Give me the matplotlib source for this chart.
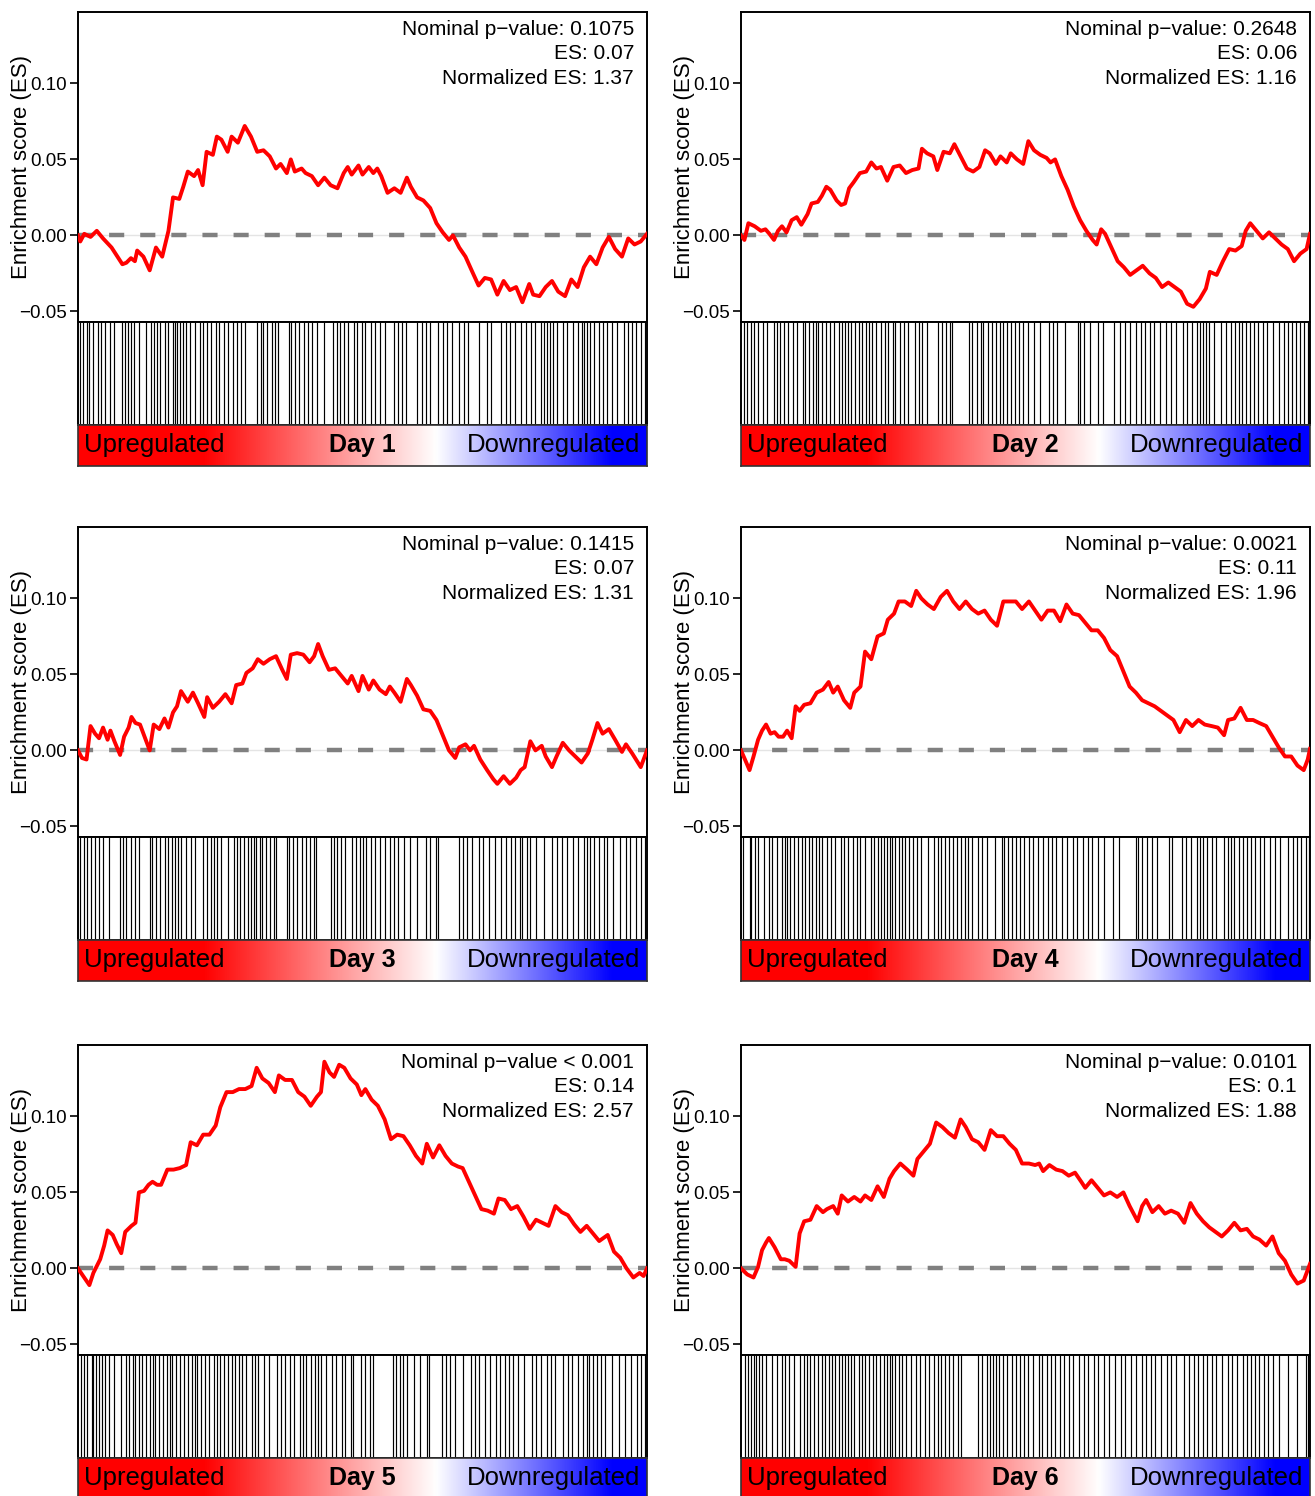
import numpy as np
import matplotlib.pyplot as plt
from matplotlib.colors import LinearSegmentedColormap
from matplotlib.ticker import FuncFormatter

plt.rcParams['font.family'] = ['Liberation Sans', 'DejaVu Sans']

# ----------------------
# Running enrichment score (x = position in ranked list, %)
# ----------------------
day1_rank = [0, 0.4, 1.1, 2.2, 3.3, 4.4, 5.9, 7.8, 8.5, 9.3,
             10.0, 10.4, 11.5, 12.6, 13.7, 14.8, 15.9, 16.7, 17.8, 18.5,
             19.3, 20.4, 21.1, 21.9, 22.6, 23.7, 24.4, 25.2, 26.3, 27.0,
             28.1, 29.3, 30.4, 31.5, 32.6, 33.7, 34.8, 35.6, 36.7, 37.4,
             38.1, 39.3, 40.0, 41.1, 42.2, 43.3, 44.4, 45.6, 46.7, 47.4,
             48.1, 49.3, 50.0, 51.1, 51.9, 52.6, 53.3, 54.4, 55.6, 56.7,
             57.8, 58.5, 59.6, 60.7, 61.9, 63.0, 64.1, 65.2, 65.9, 67.0,
             68.1, 69.3, 70.4, 71.5, 72.6, 73.7, 74.8, 75.9, 77.0, 78.1,
             79.3, 80.0, 81.1, 82.2, 83.3, 84.4, 85.6, 86.7, 87.8, 88.9,
             90.0, 91.1, 92.2, 93.3, 94.4, 95.6, 96.7, 97.8, 98.9, 100]
day1_es = [0.000, -0.004, 0.001, -0.001, 0.003, -0.002, -0.008, -0.019, -0.018, -0.015,
           -0.017, -0.010, -0.014, -0.023, -0.008, -0.014, 0.003, 0.025, 0.024, 0.032,
           0.042, 0.039, 0.043, 0.033, 0.055, 0.053, 0.065, 0.063, 0.055, 0.065,
           0.061, 0.072, 0.065, 0.055, 0.056, 0.052, 0.044, 0.047, 0.041, 0.050,
           0.042, 0.044, 0.041, 0.039, 0.033, 0.038, 0.033, 0.031, 0.041, 0.045,
           0.040, 0.046, 0.040, 0.045, 0.041, 0.044, 0.039, 0.028, 0.031, 0.028,
           0.038, 0.032, 0.025, 0.023, 0.018, 0.008, 0.002, -0.003, 0.000, -0.008,
           -0.014, -0.024, -0.033, -0.028, -0.029, -0.039, -0.030, -0.036, -0.034, -0.044,
           -0.032, -0.039, -0.040, -0.034, -0.030, -0.037, -0.040, -0.029, -0.034, -0.021,
           -0.014, -0.019, -0.008, -0.001, -0.009, -0.014, -0.002, -0.006, -0.004, 0.001]

day2_rank = [0, 0.6, 1.3, 2.4, 3.5, 4.3, 5.0, 5.8, 6.5, 7.2,
             8.0, 8.9, 9.8, 10.6, 11.7, 12.4, 13.5, 14.2, 15.0, 15.7,
             16.8, 17.6, 18.3, 19.0, 19.8, 20.9, 22.0, 22.9, 23.8, 24.6,
             25.7, 26.8, 27.9, 29.0, 30.1, 31.2, 31.8, 32.7, 33.8, 34.5,
             35.6, 36.7, 37.5, 38.6, 39.7, 40.8, 41.9, 42.9, 43.7, 44.8,
             45.6, 46.7, 47.4, 48.5, 49.6, 50.5, 51.5, 52.6, 53.7, 54.4,
             55.2, 56.3, 57.4, 58.5, 59.6, 60.7, 61.8, 62.5, 63.3, 64.0,
             65.1, 66.2, 67.3, 68.4, 69.5, 70.6, 71.8, 72.9, 74.0, 75.1,
             76.2, 77.3, 78.4, 79.5, 80.6, 81.7, 82.4, 83.6, 84.7, 85.8,
             86.9, 88.0, 88.7, 89.5, 90.6, 91.7, 92.8, 93.9, 95.0, 96.1,
             97.2, 98.3, 99.4, 100]
day2_es = [0.000, -0.003, 0.008, 0.006, 0.003, 0.004, 0.001, -0.003, 0.003, 0.006,
           0.002, 0.010, 0.012, 0.007, 0.014, 0.021, 0.022, 0.026, 0.032, 0.030,
           0.023, 0.020, 0.021, 0.031, 0.035, 0.041, 0.042, 0.048, 0.044, 0.045,
           0.036, 0.045, 0.046, 0.041, 0.043, 0.044, 0.057, 0.054, 0.052, 0.043,
           0.055, 0.054, 0.060, 0.052, 0.044, 0.042, 0.045, 0.056, 0.054, 0.047,
           0.052, 0.048, 0.054, 0.050, 0.047, 0.062, 0.056, 0.053, 0.051, 0.048,
           0.050, 0.039, 0.030, 0.019, 0.010, 0.003, -0.003, -0.006, 0.004, 0.001,
           -0.008, -0.017, -0.021, -0.026, -0.023, -0.020, -0.025, -0.028, -0.034, -0.031,
           -0.034, -0.037, -0.045, -0.047, -0.042, -0.035, -0.024, -0.026, -0.017, -0.009,
           -0.010, -0.007, 0.003, 0.008, 0.003, -0.002, 0.002, -0.002, -0.006, -0.009,
           -0.017, -0.012, -0.009, 0.001]

day3_rank = [0, 0.7, 1.5, 2.2, 3.0, 3.7, 4.4, 5.2, 5.7, 6.4,
             7.4, 8.1, 8.9, 9.4, 10.1, 10.9, 11.9, 12.6, 13.3, 14.3,
             15.2, 15.9, 16.7, 17.4, 18.1, 19.3, 20.2, 21.1, 22.2, 22.7,
             23.7, 24.8, 25.9, 27.0, 27.8, 28.9, 29.6, 30.7, 31.6, 32.6,
             33.7, 34.8, 35.9, 36.7, 37.4, 38.5, 39.6, 40.7, 41.5, 42.2,
             43.0, 44.1, 45.2, 46.3, 47.4, 48.1, 49.3, 50.0, 51.1, 51.9,
             53.0, 54.1, 54.8, 55.6, 56.7, 57.8, 58.5, 59.6, 60.7, 61.9,
             63.0, 64.1, 65.2, 66.3, 67.0, 68.1, 68.9, 69.6, 70.7, 71.9,
             73.0, 73.7, 74.8, 75.9, 77.0, 77.8, 78.5, 79.5, 80.4, 81.5,
             82.2, 83.3, 84.1, 85.2, 86.3, 87.4, 88.5, 89.6, 90.4, 91.3,
             92.2, 93.3, 94.4, 95.6, 96.3, 97.4, 98.9, 100]
day3_es = [0.000, -0.005, -0.006, 0.016, 0.011, 0.008, 0.015, 0.007, 0.013, 0.006,
           -0.003, 0.009, 0.015, 0.022, 0.018, 0.017, 0.007, 0.000, 0.017, 0.014,
           0.021, 0.015, 0.025, 0.029, 0.039, 0.032, 0.038, 0.031, 0.022, 0.035,
           0.028, 0.032, 0.037, 0.031, 0.043, 0.044, 0.051, 0.054, 0.060, 0.057,
           0.060, 0.062, 0.053, 0.047, 0.063, 0.064, 0.063, 0.058, 0.062, 0.070,
           0.062, 0.053, 0.054, 0.049, 0.044, 0.049, 0.039, 0.049, 0.040, 0.046,
           0.040, 0.037, 0.042, 0.038, 0.032, 0.047, 0.043, 0.036, 0.027, 0.026,
           0.020, 0.010, 0.000, -0.005, 0.002, 0.004, 0.000, 0.003, -0.006, -0.013,
           -0.019, -0.022, -0.017, -0.022, -0.018, -0.013, -0.011, 0.006, 0.000, 0.003,
           -0.004, -0.011, -0.004, 0.005, 0.000, -0.004, -0.008, -0.002, 0.007, 0.018,
           0.011, 0.014, 0.007, -0.001, 0.004, -0.002, -0.011, 0.000]

day4_rank = [0, 0.7, 1.5, 2.2, 3.0, 3.7, 4.4, 5.2, 5.9, 6.6,
             7.4, 8.1, 8.9, 9.6, 10.3, 11.1, 12.2, 13.3, 14.4, 15.4,
             16.2, 17.0, 18.1, 19.2, 19.9, 21.0, 21.8, 22.9, 24.0, 25.1,
             25.8, 26.9, 27.7, 28.8, 29.9, 30.8, 31.7, 32.8, 33.9, 35.1,
             36.2, 37.3, 38.4, 39.5, 40.6, 41.7, 42.8, 43.9, 45.0, 46.1,
             47.2, 48.3, 49.4, 50.6, 51.7, 52.8, 53.9, 55.0, 56.1, 57.2,
             58.3, 59.4, 60.5, 61.6, 62.7, 63.8, 64.9, 66.1, 67.2, 68.3,
             69.4, 70.5, 71.6, 72.7, 73.8, 74.9, 76.0, 77.1, 78.2, 79.3,
             80.4, 81.5, 82.7, 83.8, 84.9, 85.6, 86.7, 87.8, 88.9, 90.0,
             91.1, 92.3, 93.4, 94.5, 95.6, 96.7, 97.8, 98.9, 99.6, 100]
day4_es = [0.000, -0.006, -0.013, -0.004, 0.007, 0.013, 0.017, 0.011, 0.012, 0.009,
           0.009, 0.013, 0.008, 0.029, 0.026, 0.030, 0.031, 0.038, 0.040, 0.045,
           0.038, 0.042, 0.033, 0.028, 0.038, 0.042, 0.065, 0.060, 0.075, 0.077,
           0.086, 0.090, 0.098, 0.098, 0.095, 0.105, 0.100, 0.096, 0.093, 0.101,
           0.105, 0.098, 0.093, 0.098, 0.093, 0.090, 0.092, 0.086, 0.082, 0.098,
           0.098, 0.098, 0.093, 0.098, 0.092, 0.086, 0.092, 0.092, 0.085, 0.096,
           0.090, 0.089, 0.084, 0.079, 0.079, 0.074, 0.066, 0.062, 0.052, 0.042,
           0.038, 0.033, 0.031, 0.029, 0.026, 0.023, 0.020, 0.012, 0.020, 0.016,
           0.020, 0.017, 0.016, 0.015, 0.010, 0.020, 0.021, 0.028, 0.020, 0.020,
           0.018, 0.016, 0.009, 0.002, -0.004, -0.004, -0.010, -0.013, -0.006, 0.001]

day5_rank = [0, 0.9, 2.0, 2.7, 3.9, 4.6, 5.2, 6.1, 6.8, 7.6,
             8.3, 9.4, 10.1, 10.7, 11.6, 12.4, 13.1, 13.9, 14.6, 15.7,
             16.8, 17.9, 19.0, 19.8, 20.9, 22.0, 23.1, 24.2, 25.0, 26.1,
             27.2, 28.3, 29.4, 30.5, 31.4, 32.4, 33.5, 34.6, 35.3, 36.4,
             37.6, 38.7, 39.8, 40.9, 42.0, 42.7, 43.3, 44.2, 45.0, 45.9,
             46.8, 47.9, 49.0, 49.8, 50.5, 51.6, 52.7, 53.9, 55.0, 56.1,
             57.2, 58.3, 59.4, 60.5, 61.3, 62.4, 63.5, 64.6, 65.7, 66.8,
             67.6, 68.7, 69.8, 70.9, 72.0, 73.1, 73.9, 75.0, 76.1, 77.2,
             78.3, 79.4, 80.5, 81.6, 82.7, 83.9, 85.0, 86.1, 87.2, 88.3,
             89.4, 90.5, 91.6, 93.1, 94.2, 95.3, 96.4, 97.6, 98.7, 99.4,
             100]
day5_es = [0.000, -0.005, -0.011, -0.003, 0.006, 0.015, 0.025, 0.022, 0.016, 0.010,
           0.024, 0.028, 0.030, 0.050, 0.051, 0.055, 0.057, 0.055, 0.055, 0.065,
           0.065, 0.066, 0.068, 0.083, 0.081, 0.088, 0.088, 0.094, 0.106, 0.116,
           0.116, 0.118, 0.118, 0.120, 0.132, 0.125, 0.122, 0.116, 0.127, 0.124,
           0.124, 0.116, 0.113, 0.107, 0.113, 0.116, 0.136, 0.129, 0.126, 0.134,
           0.132, 0.125, 0.121, 0.114, 0.118, 0.111, 0.107, 0.098, 0.085, 0.088,
           0.087, 0.081, 0.074, 0.069, 0.082, 0.073, 0.081, 0.074, 0.069, 0.067,
           0.066, 0.057, 0.048, 0.039, 0.038, 0.036, 0.046, 0.045, 0.039, 0.041,
           0.034, 0.026, 0.032, 0.030, 0.028, 0.041, 0.037, 0.035, 0.029, 0.024,
           0.028, 0.023, 0.018, 0.022, 0.011, 0.007, 0.000, -0.006, -0.003, -0.005,
           0.000]

day6_rank = [0, 1.1, 2.2, 3.0, 3.7, 4.4, 4.9, 5.9, 7.0, 7.7,
             8.5, 9.6, 10.3, 11.1, 12.2, 13.3, 14.4, 15.1, 16.2, 17.0,
             17.7, 18.8, 19.9, 21.0, 21.8, 22.9, 24.0, 25.1, 26.1, 26.9,
             28.0, 29.2, 30.3, 31.0, 32.1, 33.2, 34.3, 35.4, 36.5, 37.6,
             38.6, 39.5, 40.6, 41.7, 42.8, 43.9, 45.0, 46.1, 47.2, 48.3,
             49.4, 50.6, 51.7, 52.4, 53.1, 54.2, 55.4, 56.5, 57.6, 58.7,
             59.8, 60.5, 61.6, 62.7, 63.8, 64.9, 66.1, 67.2, 68.3, 69.7,
             70.5, 71.2, 72.3, 73.4, 74.5, 75.6, 76.8, 77.9, 79.0, 80.1,
             81.2, 82.3, 83.4, 84.5, 85.6, 86.7, 87.8, 88.9, 90.0, 91.1,
             92.3, 93.4, 94.5, 95.6, 96.7, 97.8, 98.9, 100]
day6_es = [0.000, -0.004, -0.006, 0.001, 0.012, 0.017, 0.020, 0.014, 0.006, 0.006,
           0.005, 0.001, 0.023, 0.031, 0.032, 0.041, 0.037, 0.039, 0.041, 0.036,
           0.048, 0.044, 0.047, 0.044, 0.048, 0.045, 0.054, 0.047, 0.059, 0.064,
           0.069, 0.065, 0.061, 0.072, 0.077, 0.082, 0.096, 0.093, 0.089, 0.086,
           0.098, 0.093, 0.085, 0.083, 0.078, 0.091, 0.087, 0.087, 0.082, 0.078,
           0.069, 0.069, 0.068, 0.069, 0.064, 0.068, 0.065, 0.064, 0.061, 0.063,
           0.057, 0.053, 0.058, 0.053, 0.048, 0.050, 0.047, 0.050, 0.041, 0.031,
           0.041, 0.045, 0.037, 0.041, 0.036, 0.038, 0.036, 0.030, 0.043, 0.036,
           0.031, 0.027, 0.024, 0.021, 0.025, 0.030, 0.025, 0.026, 0.021, 0.019,
           0.015, 0.021, 0.010, 0.005, -0.004, -0.010, -0.008, 0.003]

# ----------------------
# Gene set hits along the ranked list (%)
# ----------------------
day1_hits = [0.4, 0.9, 1.5, 2.0, 2.7, 3.5, 4.1, 4.8, 5.7, 6.3, 7.8, 8.2, 8.7, 9.3, 9.9,
             10.7, 11.9, 12.8, 13.3, 13.9, 14.4, 15.3, 15.9, 16.7, 17.0, 17.4, 18.0,
             18.5, 18.9, 19.6, 20.5, 21.5, 22.0, 22.6, 23.3, 24.2, 24.8, 25.6, 26.3,
             27.2, 27.9, 28.7, 29.3, 31.5, 32.1, 32.6, 33.3, 34.1, 34.6, 35.2, 37.0,
             37.4, 38.1, 38.9, 39.8, 40.4, 41.1, 42.0, 43.3, 44.8, 45.6, 46.1, 46.7,
             47.4, 48.5, 49.1, 49.9, 50.4, 51.5, 52.2, 53.0, 53.9, 55.6, 56.3, 57.0,
             57.6, 59.6, 60.4, 61.1, 61.9, 63.3, 64.1, 64.8, 65.7, 67.0, 67.8, 68.5,
             70.4, 71.9, 72.6, 74.4, 75.2, 75.9, 76.8, 77.8, 78.7, 79.6, 80.4, 81.3,
             81.9, 82.4, 83.0, 83.5, 84.1, 85.2, 85.9, 87.0, 87.9, 88.5, 88.9, 89.4,
             90.0, 90.7, 91.6, 92.2, 93.0, 93.9, 94.8, 95.9, 96.7, 97.4, 98.1, 98.9, 99.6]
day2_hits = [0.6, 1.1, 1.7, 2.3, 3.0, 3.8, 4.6, 5.8, 6.3, 6.9, 7.6, 8.3, 9.2, 9.8, 10.9,
             11.3, 12.0, 12.6, 13.1, 13.6, 14.2, 15.0, 15.7, 16.4, 17.2, 17.8, 18.3,
             18.8, 19.4, 20.1, 20.7, 21.2, 22.0, 22.5, 23.1, 23.8, 24.6, 25.3, 25.9,
             26.8, 27.1, 27.9, 28.6, 29.4, 30.5, 31.2, 31.8, 32.7, 34.7, 35.3, 36.0,
             36.7, 37.1, 40.0, 40.6, 41.4, 42.1, 42.6, 43.4, 44.1, 44.8, 45.6, 46.1,
             46.7, 47.4, 48.2, 48.9, 49.6, 50.4, 51.5, 52.6, 54.1, 54.9, 55.5, 57.0,
             59.2, 59.6, 60.3, 61.4, 62.8, 63.6, 65.5, 66.6, 67.5, 68.4, 69.5, 70.3,
             71.0, 71.8, 72.5, 73.6, 74.7, 75.6, 76.5, 77.7, 78.4, 79.3, 80.2, 80.6,
             81.2, 81.7, 82.2, 83.2, 84.3, 85.2, 86.1, 86.9, 87.6, 88.1, 88.7, 89.5,
             90.2, 90.9, 91.7, 92.4, 93.5, 94.6, 95.4, 96.1, 96.8, 97.6, 98.3, 99.0, 99.6]
day3_hits = [0.4, 1.0, 1.5, 2.2, 3.0, 3.7, 4.4, 5.4, 7.4, 7.9, 8.5, 9.3, 10.1, 10.7,
             12.6, 13.0, 13.7, 14.4, 15.3, 15.9, 16.5, 17.0, 17.6, 18.1, 18.9, 19.8,
             20.5, 21.9, 22.6, 23.3, 23.9, 24.4, 25.2, 26.3, 27.4, 27.9, 28.5, 29.1,
             29.9, 30.4, 30.9, 31.3, 31.9, 32.4, 33.0, 33.7, 34.4, 34.8, 36.8, 37.1,
             37.8, 38.5, 39.3, 40.0, 40.7, 41.5, 41.9, 44.4, 45.0, 45.6, 46.3, 47.0,
             48.1, 48.9, 49.6, 50.1, 50.7, 51.5, 52.2, 53.0, 53.9, 54.8, 55.6, 56.3,
             57.3, 58.3, 59.6, 61.1, 61.9, 63.0, 63.3, 67.0, 67.6, 68.4, 69.3, 70.4,
             71.1, 72.2, 73.3, 74.4, 75.2, 76.1, 76.8, 77.6, 78.1, 78.9, 79.5, 80.5,
             81.9, 83.3, 84.1, 85.0, 85.9, 87.0, 87.9, 88.9, 89.4, 89.9, 90.7, 91.6,
             92.4, 93.0, 94.1, 95.2, 96.3, 97.0, 98.1, 99.0, 99.6]
day4_hits = [0.4, 1.5, 1.8, 2.4, 3.0, 4.1, 4.9, 5.5, 6.3, 7.2, 7.7, 8.1, 8.6, 9.4, 10.0,
             10.7, 11.3, 12.0, 12.5, 13.1, 13.7, 14.2, 15.1, 15.9, 16.6, 17.5, 18.1,
             18.8, 19.6, 20.3, 20.9, 21.8, 22.9, 23.4, 24.0, 24.6, 25.1, 25.6, 26.1,
             26.6, 27.1, 27.7, 28.3, 28.8, 29.5, 30.3, 31.0, 31.7, 32.8, 33.9, 34.7,
             35.2, 35.8, 36.5, 37.3, 38.0, 38.6, 39.3, 39.9, 40.6, 41.7, 42.4, 43.2,
             44.6, 45.8, 46.3, 46.9, 47.6, 48.3, 49.1, 49.8, 50.6, 51.3, 52.2, 53.1,
             53.9, 54.6, 55.4, 56.5, 57.3, 58.3, 59.0, 60.1, 61.0, 61.6, 62.7, 63.8,
             65.3, 66.4, 69.4, 69.7, 70.5, 71.4, 72.3, 73.1, 75.3, 75.8, 77.5, 78.2,
             79.0, 80.1, 80.7, 81.2, 81.9, 82.7, 83.4, 84.9, 85.6, 86.1, 86.7, 87.5,
             88.2, 88.9, 89.7, 90.4, 91.3, 91.9, 93.0, 93.9, 94.7, 96.2, 97.0, 97.8,
             98.5, 99.3, 99.9]
day5_hits = [0.5, 1.0, 1.6, 2.4, 2.7, 3.1, 3.7, 4.2, 4.7, 5.5, 6.4, 7.6, 8.4, 9.0, 9.6,
             10.1, 10.7, 11.3, 12.0, 12.6, 13.1, 13.6, 14.2, 15.0, 15.6, 16.1, 16.6,
             17.2, 17.9, 18.7, 19.3, 20.0, 20.5, 21.0, 21.6, 22.4, 23.1, 23.9, 24.4,
             25.0, 25.7, 26.4, 27.0, 27.6, 28.3, 28.9, 29.6, 30.5, 31.1, 31.6, 32.7,
             33.6, 35.0, 35.7, 36.4, 37.2, 37.9, 39.0, 39.6, 40.1, 40.9, 41.6, 42.2,
             42.7, 43.5, 44.6, 45.3, 46.4, 47.0, 47.9, 48.3, 49.8, 50.4, 51.3, 51.9,
             55.3, 55.9, 56.6, 57.2, 57.9, 59.0, 60.1, 61.3, 61.6, 63.9, 64.6, 65.3,
             66.2, 67.6, 69.0, 69.8, 70.5, 71.6, 72.4, 73.5, 74.2, 75.0, 75.7, 76.4,
             77.3, 78.3, 79.8, 80.5, 81.3, 82.4, 83.1, 83.9, 85.3, 86.1, 86.8, 87.9,
             88.7, 89.4, 89.8, 90.5, 91.3, 92.0, 92.7, 93.9, 95.0, 96.1, 97.2, 98.3,
             99.0, 99.6]
day6_hits = [0.7, 1.3, 1.8, 2.2, 2.6, 3.2, 3.7, 4.4, 5.4, 6.3, 7.2, 7.7, 8.5, 9.4, 10.3,
             11.1, 11.6, 12.2, 12.8, 13.5, 14.2, 14.8, 15.5, 16.0, 16.6, 17.2, 17.7,
             18.2, 18.8, 19.4, 19.9, 20.7, 21.2, 21.8, 22.5, 23.2, 23.8, 24.4, 25.1,
             25.6, 26.2, 26.6, 27.1, 27.7, 28.3, 29.0, 29.9, 30.8, 31.5, 32.3, 33.0,
             33.9, 34.7, 35.2, 35.8, 36.5, 37.3, 38.2, 38.7, 41.7, 42.3, 43.2, 43.8,
             44.3, 44.8, 45.4, 46.0, 46.7, 47.6, 48.3, 49.1, 49.8, 50.4, 51.3, 52.4,
             52.9, 53.7, 54.4, 55.1, 56.1, 56.8, 57.6, 58.3, 59.4, 60.3, 60.9, 62.0,
             62.7, 63.8, 64.7, 65.7, 66.8, 67.5, 68.6, 69.4, 70.5, 71.2, 72.0, 72.8,
             73.8, 74.9, 75.6, 76.4, 77.9, 78.7, 79.7, 80.4, 81.2, 81.9, 82.7, 83.4,
             84.5, 85.6, 86.3, 87.1, 88.2, 88.9, 89.7, 90.4, 91.1, 91.9, 92.6, 93.5,
             94.5, 96.2, 97.8, 99.3, 99.7]

# ----------------------
# Statistics per day
# ----------------------
days = ['Day 1', 'Day 2', 'Day 3', 'Day 4', 'Day 5', 'Day 6']
pvals = ['0.1075', '0.2648', '0.1415', '0.0021', '< 0.001', '0.0101']
es_scores = [0.07, 0.06, 0.07, 0.11, 0.14, 0.1]
nes_scores = [1.37, 1.16, 1.31, 1.96, 2.57, 1.88]

ranks = [day1_rank, day2_rank, day3_rank, day4_rank, day5_rank, day6_rank]
scores = [day1_es, day2_es, day3_es, day4_es, day5_es, day6_es]
hits = [day1_hits, day2_hits, day3_hits, day4_hits, day5_hits, day6_hits]

rank_cmap = LinearSegmentedColormap.from_list(
    'rank', [(0, '#ff0000'), (0.22, '#ff0000'), (0.63, '#ffffff'),
             (0.94, '#0000ff'), (1, '#0000ff')])

minus_fmt = FuncFormatter(lambda v, pos: f'{v:.2f}'.replace('-', '\u2212'))

# ----------------------
# Layout (pixels)
# ----------------------
W, H = 1315, 1496
fig = plt.figure(figsize=(W / 100, H / 100), dpi=100)


def box(x0, y0, w, h):
    return [x0 / W, 1 - (y0 + h) / H, w / W, h / H]


col_x = [78, 741]
row_y = [12, 527, 1045]
pw, h_es, h_bar, h_grad = 569, 310, 103, 41

for i, day in enumerate(days):
    x0 = col_x[i % 2]
    y0 = row_y[i // 2]

    # enrichment curve
    ax = fig.add_axes(box(x0, y0, pw, h_es))
    ax.axhline(0, color='#e4e4e4', lw=1.0, zorder=1)
    ax.axhline(0, color='#808080', lw=3.2, ls=(0, (3.4, 3.6)),
               dash_capstyle='butt', zorder=2)
    ax.plot(ranks[i], scores[i], color='#ff0000', lw=2.8,
            solid_joinstyle='round', zorder=3)
    ax.set_xlim(0, 100)
    ax.set_ylim(-0.057, 0.147)
    ax.set_xticks([])
    ax.set_yticks([-0.05, 0.0, 0.05, 0.10])
    ax.yaxis.set_major_formatter(minus_fmt)
    ax.tick_params(axis='y', length=6, width=1.2, labelsize=13.5, pad=2)
    for s in ax.spines.values():
        s.set_linewidth(1.4)
    ax.set_ylabel('Enrichment score (ES)', fontsize=16)
    ax.yaxis.set_label_coords(-0.08, 0.5)

    sep = ' ' if pvals[i].startswith('<') else ': '
    stats = (f"Nominal p\u2212value{sep}{pvals[i]}\n"
             f"ES: {es_scores[i]}\n"
             f"Normalized ES: {nes_scores[i]:.2f}")
    ax.text(0.977, 0.975, stats, transform=ax.transAxes, ha='right',
            va='top', fontsize=15, linespacing=1.36)

    # hit barcode
    axb = fig.add_axes(box(x0, y0 + h_es, pw, h_bar))
    axb.vlines(hits[i], 0, 1, color='black', lw=0.85)
    axb.set_xlim(0, 100)
    axb.set_ylim(0, 1)
    axb.set_xticks([])
    axb.set_yticks([])
    for s in axb.spines.values():
        s.set_linewidth(1.4)

    # ranked list colour bar
    axg = fig.add_axes(box(x0, y0 + h_es + h_bar, pw, h_grad))
    axg.imshow(np.linspace(0, 1, 256)[None, :], aspect='auto', cmap=rank_cmap,
               extent=[0, 100, 0, 1])
    axg.set_xlim(0, 100)
    axg.set_ylim(0, 1)
    axg.set_xticks([])
    axg.set_yticks([])
    for s in axg.spines.values():
        s.set_linewidth(1.2)
        s.set_color('#333333')
    axg.text(1.0, 0.52, 'Upregulated', ha='left', va='center', fontsize=18.5)
    axg.text(50, 0.52, day, ha='center', va='center', fontsize=18,
             fontweight='bold')
    axg.text(98.8, 0.52, 'Downregulated', ha='right', va='center',
             fontsize=18.5)

fig.savefig('out.png', dpi=100)
